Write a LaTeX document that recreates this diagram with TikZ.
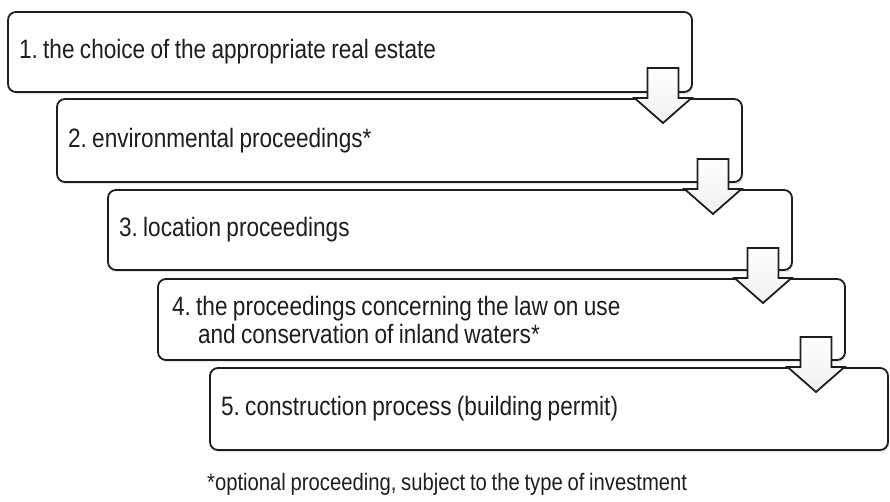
\documentclass[tikz,border=0pt]{standalone}
\usepackage{fontspec}
\setmainfont[FakeStretch=0.85, WordSpace=0.85]{Liberation Sans}
\frenchspacing
\usetikzlibrary{shadows,calc}
\definecolor{ink}{HTML}{1E1E1E}
\newcommand\natsp{\spaceskip=0pt\xspaceskip=0pt\relax}
\newcommand\flowarrow[2]{%
  \draw[blockarrow] let \p1=(#1.east), \p2=(#2.north) in
    (\x1-44.5pt,\y2+31pt) -- (\x1-13.5pt,\y2+31pt) -- (\x1-13.5pt,\y2+1pt)
    -- (\x1-0.5pt,\y2+1pt) -- (\x1-29pt,\y2-24pt) -- (\x1-57.5pt,\y2+1pt)
    -- (\x1-44.5pt,\y2+1pt) -- cycle;}
\begin{document}
\begin{tikzpicture}[x=1pt,y=-1pt,
  box/.style={draw=ink, line width=1.8pt, rounded corners=8pt, fill=white,
    inner xsep=11pt, inner ysep=0pt, outer sep=0pt, align=left,
    anchor=north west, text=ink, font=\fontsize{26.6}{28}\selectfont\frenchspacing,
    drop shadow={shadow xshift=1.2pt, shadow yshift=-2.2pt, opacity=0.22}},
  blockarrow/.style={draw=ink, line width=1.8pt, line join=miter,
    top color=white, bottom color=gray!12},
  note/.style={anchor=base west, text=ink, inner sep=0pt,
    font=\fontsize{23.8}{28}\selectfont\frenchspacing}]
\useasboundingbox (0,0) rectangle (890,501);
\node[box, text width=662pt, minimum height=80pt] (b1) at (8,12)
  {\natsp 1. the choice of the appropriate real estate};
\node[box, text width=663pt, minimum height=83pt] (b2) at (57,99)
  {\natsp 2. environmental proceedings*};
\node[box, text width=662pt, minimum height=80pt] (b3) at (108,190)
  {\natsp 3. location proceedings};
\node[box, inner xsep=14pt, text width=659pt, minimum height=81pt] (b4) at (158,279)
  {\natsp 4. the proceedings concerning the law on use\\\hspace*{26pt}and conservation of inland waters*};
\node[box, text width=656pt, minimum height=82pt] (b5) at (210,368)
  {\natsp 5. construction process (building permit)};
\flowarrow{b1}{b2}
\flowarrow{b2}{b3}
\flowarrow{b3}{b4}
\flowarrow{b4}{b5}
\node[note] (fn) at (207,490) {*optional proceeding, subject to the type of investment};
\end{tikzpicture}
\end{document}
